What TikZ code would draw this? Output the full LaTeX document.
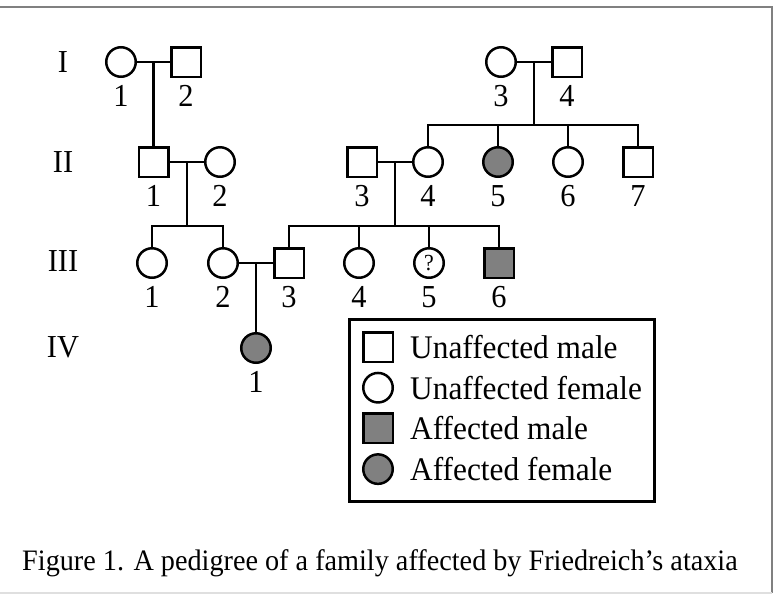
\documentclass[tikz,border=0pt]{standalone}
\usepackage{fontspec}
\setmainfont{Liberation Serif}[FakeStretch=0.95]
\usetikzlibrary{calc,positioning}
\tikzset{node distance=40.7pt,
  male/.style={draw, rectangle, line width=2.5pt, minimum size=29.5pt, inner sep=0pt},
  female/.style={male, circle},
  ill/.style={fill=gray},
  line/.style={line width=2.5pt},
  gen/.style={font=\fontsize{32}{36}\selectfont},
  keytext/.style={font=\fontsize{33}{38}\selectfont, inner sep=0pt, anchor=west},
  every label/.style={font=\fontsize{32}{36}\selectfont, inner sep=0pt},
  label distance=7.5pt}

\begin{document}
\begin{tikzpicture}[x=1pt, y=-1pt]
  \useasboundingbox (0,0) rectangle (776,595);
  \draw[gray, line width=1.8pt] (0,7) -- (772,7) -- (772,593);
  \draw[gray!25, line width=1.5pt] (0,593) -- (772,593);
  % generations
  \node[gen] (gI)   at (63,62)  {I};
  \node[gen] (gII)  at (63,162) {II};
  \node[gen] (gIII) at (63,261) {III};
  \node[gen] (gIV)  at (63,347) {IV};
  % I
  \node[female, label=below:1] (I1) at (121,62) {};
  \node[male,   label=below:2] (I2) at (186,62) {};
  \node[female, label=below:3] (I3) at (501,62) {};
  \node[male,   label=below:4] (I4) at (567,62) {};
  % II
  \node[male,   label=below:1] (II1) at (153.5,162) {};
  \node[female, label=below:2] (II2) at (220,162) {};
  \node[male,   label=below:3] (II3) at (362,162) {};
  \node[female, label=below:4] (II4) at (428,162) {};
  \node[female, ill, label=below:5] (II5) at (498,162) {};
  \node[female, label=below:6] (II6) at (568,162) {};
  \node[male,   label=below:7] (II7) at (638,162) {};
  % III
  \node[female, label=below:1] (III1) at (152,263) {};
  \node[female, label=below:2] (III2) at (223,263) {};
  \node[male,   label=below:3] (III3) at (289,263) {};
  \node[female, label=below:4] (III4) at (359,263) {};
  \node[female, label=below:5, font=\fontsize{23}{26}\selectfont] (III5) at (429,263) {?};
  \node[male, ill, label=below:6] (III6) at (499,263) {};
  % IV
  \node[female, ill, label=below:1] (IV1) at (256,348) {};

  % matings and sibships
  \draw[line] (I1) -- (I2);
  \coordinate (m1) at ($(I1)!0.5!(I2)$);
  \draw[line] (m1) -- (II1);
  \draw[line] (I3) -- (I4);
  \coordinate (m2) at ($(I3)!0.5!(I4)$);
  \draw[line] (m2) -- ++(0,63) coordinate (s2);
  \draw[line] (II4) -- (II4 |- s2) -- (II7 |- s2) -- (II7);
  \foreach \k in {5,6}
    \draw[line] (II\k) -- (II\k |- s2);
  \draw[line] (II1) -- (II2);
  \coordinate (m3) at ($(II1)!0.5!(II2)$);
  \draw[line] (m3) -- ++(0,64) coordinate (s3);
  \draw[line] (III1) -- (III1 |- s3) -- (III2 |- s3) -- (III2);
  \draw[line] (II3) -- (II4);
  \coordinate (m4) at ($(II3)!0.5!(II4)$);
  \draw[line] (m4) -- ++(0,64) coordinate (s4);
  \draw[line] (III3) -- (III3 |- s4) -- (III6 |- s4) -- (III6);
  \foreach \k in {4,5}
    \draw[line] (III\k) -- (III\k |- s4);
  \draw[line] (III2) -- (III3);
  \coordinate (m5) at ($(III2)!0.5!(III3)$);
  \draw[line] (m5) -- (IV1);

  % key
  \node[draw, line width=2.5pt, anchor=north west, minimum width=305pt,
        minimum height=182pt] (key) at (348,318) {};
  \node[male] (k1) at (378,347) {};
  \node[female, below of=k1] (k2) {};
  \node[male, ill, below of=k2] (k3) {};
  \node[female, ill, below of=k3] (k4) {};
  \node[keytext, right=16pt of k1] (t1) {Unaffected male};
  \node[keytext, right=16pt of k2] (t2) {Unaffected female};
  \node[keytext, right=16pt of k3] (t3) {Affected male};
  \node[keytext, right=16pt of k4] (t4) {Affected female};

  \node[font=\fontsize{29.7}{34}\selectfont, anchor=base] (cap) at (380,570)
    {Figure 1. A pedigree of a family affected by Friedreich’s ataxia};
\end{tikzpicture}
\end{document}
